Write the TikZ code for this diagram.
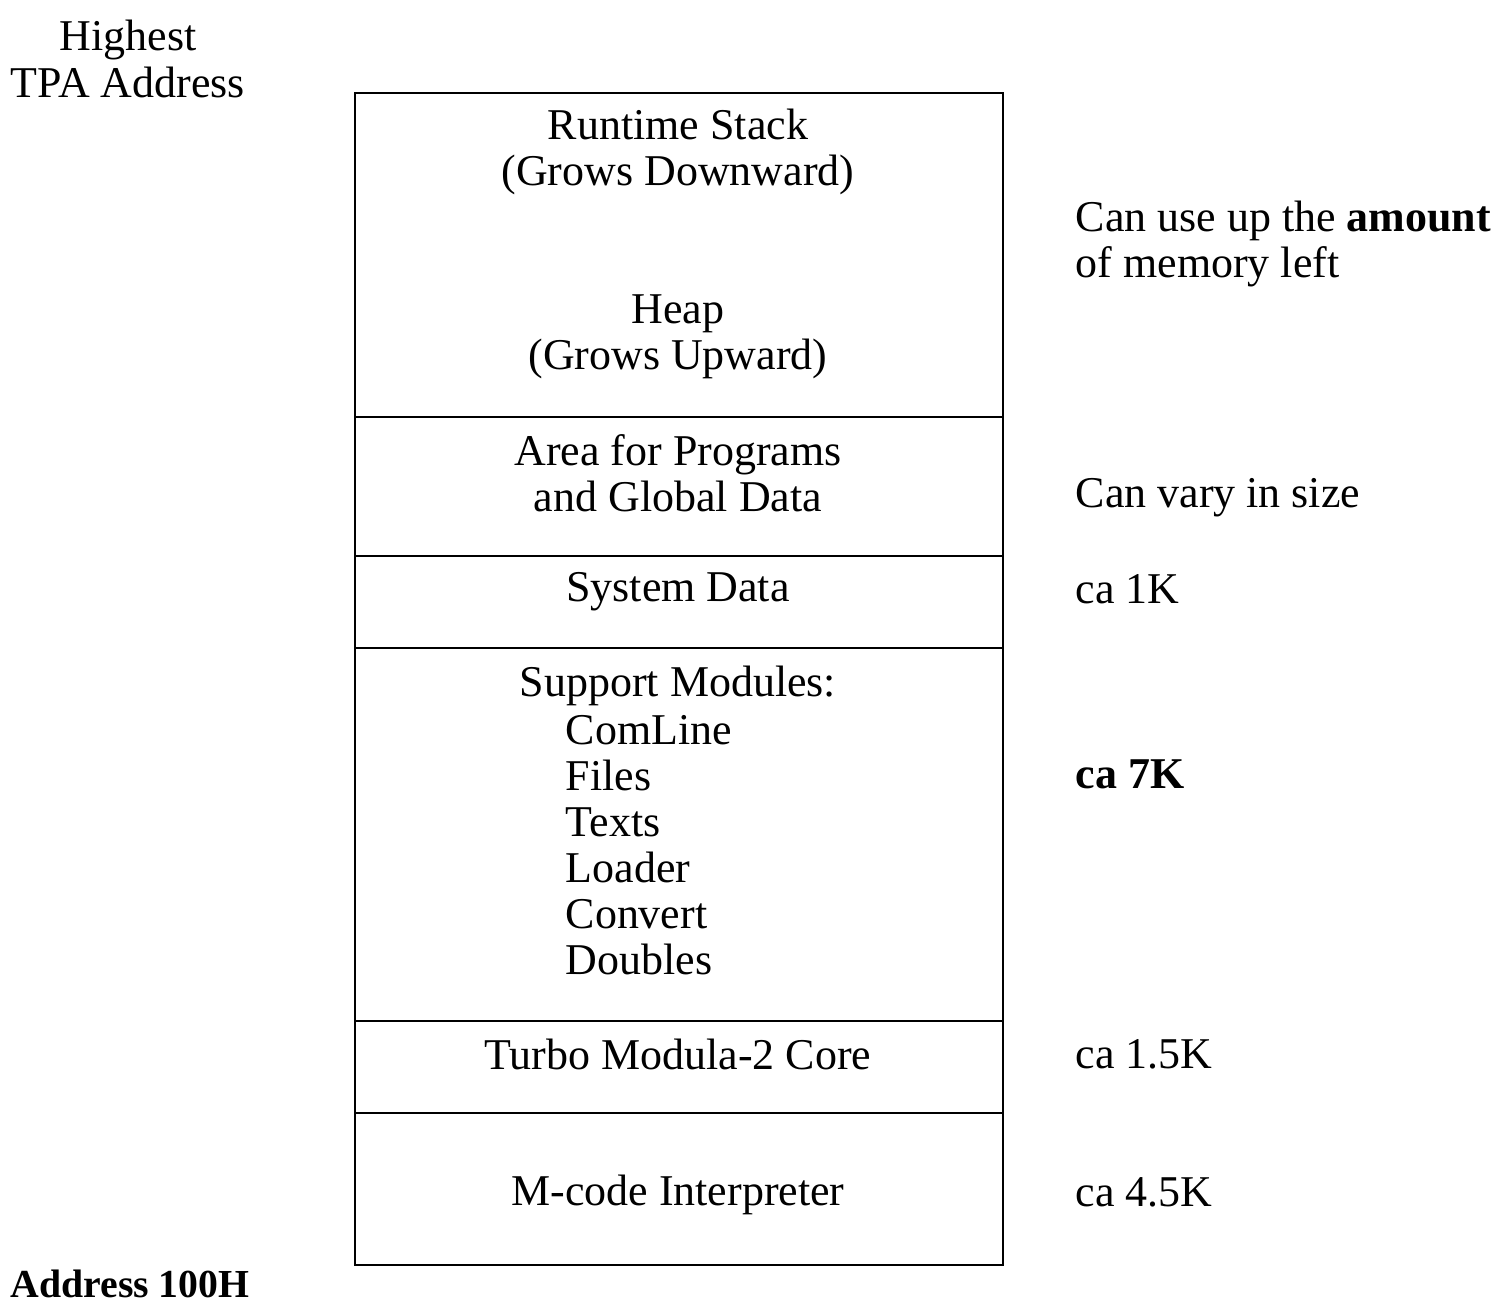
\documentclass[tikz,border=0pt]{standalone}
\usepackage{fontspec}
\setmainfont{Liberation Serif}
\usetikzlibrary{positioning}
\tikzset{txt/.style={inner sep=0pt, align=center, font=\fontsize{12.5pt}{13.1pt}\selectfont}}
\tikzset{side/.style={txt, anchor=west, align=left}}
\tikzset{wall/.style={line width=0.8pt}}

\begin{document}
\begin{tikzpicture}[x=0.01cm,y=-0.01cm]
\useasboundingbox (0,0) rectangle (1508,1304);

% frame and dividers
\coordinate (tl) at (355,93);
\coordinate (br) at (1003,1265);
\draw[wall] (tl) rectangle (br);
\foreach \y in {417,556,648,1021,1113}
  \draw[wall] (355,\y) -- (1003,\y);

% left side
\node (high) [txt] at (128,59) {Highest\\TPA Address};
\node (low) [side, font=\fontsize{11.3pt}{12pt}\selectfont\bfseries] at (10,1284) {Address 100H};

% inside the box
\node (stack) [txt] at (678,152) {Runtime Stack\\(Grows Downward)};
\node (heap) [txt] at (678,337) {Heap\\(Grows Upward)};
\node (progs) [txt] at (678,473) {Area for Programs\\and Global Data};
\node (sysdata) [txt] at (678,592) {System Data};
\node (support) [txt] at (678,686) {Support Modules:};
\node (mods) [side] at (565,845) {ComLine\\Files\\Texts\\Loader\\Convert\\Doubles};
\node (core) [txt] at (678,1054) {Turbo Modula-2 Core};
\node (interp) [txt] at (678,1195) {M-code Interpreter};

% sizes on the right
\node (sizeheap) [side] at (1075,244) {Can use up the \textbf{amount}\\of memory left};
\node (sizeprogs) [side] at (1075,498) {Can vary in size};
\node (sizesys) [side] at (1075,589) {ca 1K};
\node (sizemods) [side, font=\fontsize{12.5pt}{13.1pt}\selectfont\bfseries] at (1075,774) {ca 7K};
\node (sizecore) [side] at (1075,1054) {ca 1.5K};
\node (sizeinterp) [side] at (1075,1192) {ca 4.5K};
\end{tikzpicture}
\end{document}
